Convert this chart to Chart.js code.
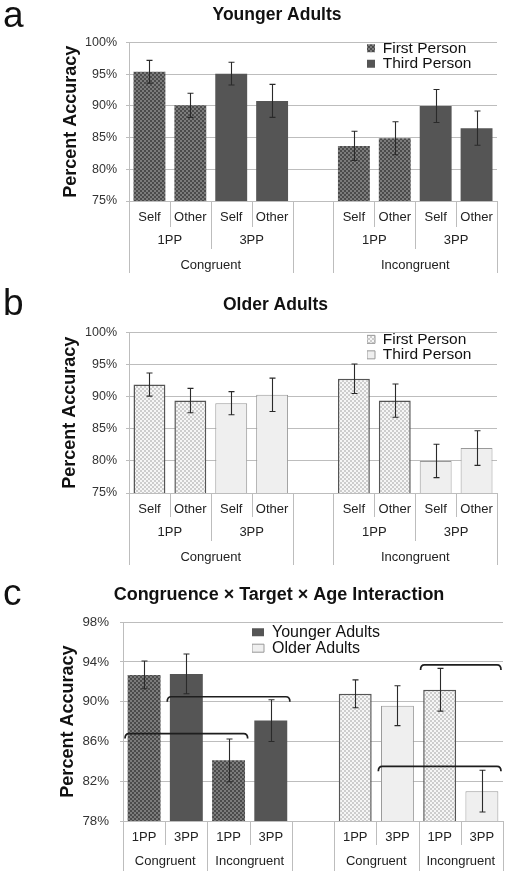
<!DOCTYPE html>
<html><head><meta charset="utf-8">
<script src="https://cdn.jsdelivr.net/npm/chart.js@4.4.0/dist/chart.umd.min.js"></script>
<style>
html,body{margin:0;padding:0;background:#fff;}
#wrap{position:relative;width:505px;height:871px;overflow:hidden;background:#fff;}
canvas{position:absolute;left:0;}
.letter{position:absolute;font-family:'Liberation Sans',Arial,sans-serif;font-size:37px;line-height:37px;color:#111;}
</style></head><body>
<div id="wrap">
  <canvas id="ca" width="505" height="290" style="top:0"></canvas>
  <canvas id="cb" width="505" height="280" style="top:290px"></canvas>
  <canvas id="cc" width="505" height="301" style="top:570px"></canvas>
  <div class="letter" style="left:3px;top:-4px">a</div>
  <div class="letter" style="left:3px;top:284px">b</div>
  <div class="letter" style="left:3px;top:574px">c</div>
</div>
<script>
// ---------- data ----------
const targetLabels = ['Self','Other','Self','Other','','Self','Other','Self','Other'];
const perspLabels = ['1PP','3PP','1PP','3PP'];
const perspSpans = [[0,1],[2,3],[5,6],[7,8]];
const congLabels = ['Congruent','Incongruent'];
const congSpans = [[0,3],[5,8]];
const firstPersonSlots = [0,1,5,6];
const thirdPersonSlots = [2,3,7,8];
const yTicksAB = [75,80,85,90,95,100];

const youngerFirstPerson = [95.4, 90.1, 83.7, 84.9];
const youngerFirstErr    = [1.8, 1.9, 2.3, 2.6];
const youngerThirdPerson = [95.1, 90.8, 90.0, 86.5];
const youngerThirdErr    = [1.8, 2.6, 2.6, 2.7];

const olderFirstPerson = [91.9, 89.4, 92.8, 89.4];
const olderFirstErr    = [1.8, 1.9, 2.3, 2.6];
const olderThirdPerson = [89.0, 90.3, 80.0, 82.0];
const olderThirdErr    = [1.8, 2.6, 2.6, 2.7];

const interactionLabels = ['1PP','3PP','1PP','3PP','','1PP','3PP','1PP','3PP'];
const interactionCongLabels = ['Congruent','Incongruent','Congruent','Incongruent'];
const interactionCongSpans = [[0,1],[2,3],[5,6],[7,8]];
const youngerSlots = [0,1,2,3];
const olderSlots = [5,6,7,8];
const youngerInteraction    = [92.7, 92.8, 84.1, 88.1];
const youngerInteractionErr = [1.4, 2.0, 2.15, 2.1];
const olderInteraction      = [90.8, 89.6, 91.2, 81.0];
const olderInteractionErr   = [1.4, 2.0, 2.15, 2.1];
const yTicksC = [78,82,86,90,94,98];
const bracketFrom  = [0, 1, 7, 6];
const bracketTo    = [2, 3, 8, 8];
const bracketLevel = [86.8, 90.5, 93.7, 83.5];

// ---------- styles ----------
Chart.defaults.font.family = "'Liberation Sans', Arial, sans-serif";
Chart.defaults.color = '#222';
const DARK = '#555555', LIGHT = '#efefef', GRID = '#bdbdbd';
function makePattern(base, dot) {
  const c = document.createElement('canvas'); c.width = 4; c.height = 4;
  const g = c.getContext('2d');
  g.fillStyle = base; g.fillRect(0,0,4,4);
  g.fillStyle = dot; g.fillRect(0,0,2,2); g.fillRect(2,2,2,2);
  return g.createPattern(c, 'repeat');
}
const darkPat = makePattern('#4b4b4b', '#7c7c7c');
const lightPat = makePattern('#f6f6f6', '#cdcdcd');

function place(vals, slots, n) { const a = new Array(n).fill(null); slots.forEach((s,i) => a[s] = vals[i]); return a; }

function decorPlugin(o) {
  return {
    id: 'decor',
    afterLayout(chart) {
      const lg = chart.legend, ca = chart.chartArea;
      if (lg) { lg.left = ca.right - o.legendFromRight; lg.top = ca.top + o.legendFromTop; }
    },
    afterDatasetsDraw(chart) {
      const ctx = chart.ctx, ys = chart.scales.y, xs = chart.scales.x;
      ctx.save();
      ctx.strokeStyle = '#2a2a2a'; ctx.lineWidth = 1.1;
      chart.data.datasets.forEach((ds, di) => {
        const meta = chart.getDatasetMeta(di);
        ds.data.forEach((v, i) => {
          if (v == null || ds.errors[i] == null) return;
          const bx = Math.round(meta.data[i].x) + 0.5;
          const yt = ys.getPixelForValue(v + ds.errors[i]), yb = ys.getPixelForValue(v - ds.errors[i]);
          ctx.beginPath();
          ctx.moveTo(bx, yt); ctx.lineTo(bx, yb);
          ctx.moveTo(bx-3, yt); ctx.lineTo(bx+3, yt);
          ctx.moveTo(bx-3, yb); ctx.lineTo(bx+3, yb);
          ctx.stroke();
        });
      });
      if (o.brackets) {
        const cw = xs.getPixelForValue(1) - xs.getPixelForValue(0);
        ctx.strokeStyle = '#1e1e1e'; ctx.lineWidth = 1.7;
        o.brackets.from.forEach((f, k) => {
          const x1 = xs.getPixelForValue(f) - cw/2 + 2;
          const x2 = xs.getPixelForValue(o.brackets.to[k]) + cw/2 - 2;
          const y = ys.getPixelForValue(o.brackets.level[k]);
          ctx.beginPath();
          ctx.moveTo(x1, y + 5); ctx.quadraticCurveTo(x1, y, x1 + 4, y);
          ctx.lineTo(x2 - 4, y); ctx.quadraticCurveTo(x2, y, x2, y + 5);
          ctx.stroke();
        });
      }
      ctx.restore();
    },
    afterDraw(chart) {
      const ctx = chart.ctx, xs = chart.scales.x, ca = chart.chartArea;
      const n = chart.data.labels.length;
      const cw = xs.getPixelForValue(1) - xs.getPixelForValue(0);
      const depth = new Array(n + 1).fill(0);
      chart.data.labels.forEach((l, i) => { if (l) { depth[i] = Math.max(depth[i], 1); depth[i+1] = Math.max(depth[i+1], 1); } });
      o.rows.forEach((r, ri) => r.spans.forEach(s => {
        depth[s[0]] = Math.max(depth[s[0]], ri + 2); depth[s[1]+1] = Math.max(depth[s[1]+1], ri + 2);
      }));
      ctx.save();
      ctx.strokeStyle = GRID; ctx.lineWidth = 1;
      depth.forEach((d, b) => {
        if (!d) return;
        const x = Math.round(xs.getPixelForValue(0) - cw/2 + b * cw) + 0.5;
        ctx.beginPath(); ctx.moveTo(x, ca.bottom); ctx.lineTo(x, ca.bottom + o.divLen[d-1]); ctx.stroke();
      });
      ctx.fillStyle = '#222'; ctx.font = "13px 'Liberation Sans', Arial, sans-serif";
      ctx.textAlign = 'center'; ctx.textBaseline = 'middle';
      o.rows.forEach(r => r.spans.forEach((s, k) => {
        const cx = (xs.getPixelForValue(s[0]) + xs.getPixelForValue(s[1])) / 2;
        ctx.fillText(r.labels[k], cx, ca.bottom + r.offset);
      }));
      ctx.restore();
    }
  };
}

function makeChart(id, o) {
  return new Chart(document.getElementById(id), {
    type: 'bar',
    data: { labels: o.labels, datasets: o.datasets },
    options: {
      responsive: false, animation: false, devicePixelRatio: 1,
      layout: { padding: o.pad },
      datasets: { bar: { categoryPercentage: 1, barPercentage: 0.78, grouped: false, skipNull: true } },
      scales: {
        x: {
          grid: { display: false, drawTicks: false }, border: { display: false },
          ticks: { autoSkip: false, maxRotation: 0, padding: o.xTickPad, font: { size: 13 }, color: '#222' },
          afterFit: s => { s.height = o.xHeight; }
        },
        y: {
          min: o.yTicks[0], max: o.yTicks[o.yTicks.length - 1],
          ticks: { stepSize: o.yTicks[1] - o.yTicks[0], callback: v => v + '%', padding: o.yTickPad, font: { size: o.yTickSize }, color: '#333' },
          grid: { color: GRID, tickLength: 3, drawTicks: true },
          border: { display: true, color: GRID },
          title: { display: true, text: 'Percent Accuracy', font: { size: 18, weight: 'bold' }, color: '#111', padding: { top: o.yTitlePad, bottom: 0 } },
          afterFit: s => { s.width = o.yWidth; }
        }
      },
      plugins: {
        title: { display: true, text: o.title, font: { size: o.titleSize, weight: 'bold' }, color: '#111', padding: { top: 0, bottom: o.titleGap } },
        legend: {
          display: true, position: 'chartArea', align: 'start',
          labels: {
            boxWidth: o.box[0], boxHeight: o.box[1], padding: 0,
            font: { size: o.legendSize, lineHeight: o.legendLH }, color: '#111',
            generateLabels: chart => chart.data.datasets.map((d, i) => ({
              text: d.label, fillStyle: d.legendFill, strokeStyle: d.legendStroke || 'rgba(0,0,0,0)',
              lineWidth: d.legendStroke ? 1 : 0, hidden: false, datasetIndex: i, fontColor: '#111'
            }))
          }
        },
        tooltip: { enabled: false }
      }
    },
    plugins: [decorPlugin(o)]
  });
}

const N = targetLabels.length;
const abRows = [ { labels: perspLabels, spans: perspSpans, offset: 39.5 }, { labels: congLabels, spans: congSpans, offset: 64 } ];

makeChart('ca', {
  labels: targetLabels, title: 'Younger Adults', titleSize: 17.5, titleGap: 16.6,
  pad: { top: 5, left: 57, right: 8, bottom: 0 }, yWidth: 72, yTitlePad: 3, yTickPad: 9, yTickSize: 12.5,
  xHeight: 89, xTickPad: 9, yTicks: yTicksAB, rows: abRows, divLen: [26, 48, 72],
  box: [8, 8], legendSize: 15.5, legendLH: 1.2, legendFromRight: 130, legendFromTop: -2,
  datasets: [
    { label: 'First Person', data: place(youngerFirstPerson, firstPersonSlots, N), errors: place(youngerFirstErr, firstPersonSlots, N),
      backgroundColor: darkPat, borderWidth: 0, legendFill: darkPat },
    { label: 'Third Person', data: place(youngerThirdPerson, thirdPersonSlots, N), errors: place(youngerThirdErr, thirdPersonSlots, N),
      backgroundColor: DARK, borderWidth: 0, legendFill: DARK }
  ]
});

makeChart('cb', {
  labels: targetLabels, title: 'Older Adults', titleSize: 17.5, titleGap: 16.6,
  pad: { top: 5, left: 54, right: 8, bottom: 0 }, yWidth: 75, yTitlePad: 5, yTickPad: 9, yTickSize: 12.5,
  xHeight: 77, xTickPad: 9, yTicks: yTicksAB, rows: abRows, divLen: [24, 48, 72],
  box: [8, 8], legendSize: 15.5, legendLH: 1.2, legendFromRight: 130, legendFromTop: -1,
  datasets: [
    { label: 'First Person', data: place(olderFirstPerson, firstPersonSlots, N), errors: place(olderFirstErr, firstPersonSlots, N),
      backgroundColor: lightPat, borderColor: '#555', borderWidth: 1.5, legendFill: lightPat, legendStroke: '#999' },
    { label: 'Third Person', data: place(olderThirdPerson, thirdPersonSlots, N), errors: place(olderThirdErr, thirdPersonSlots, N),
      backgroundColor: LIGHT, borderColor: '#999', borderWidth: 1, legendFill: LIGHT, legendStroke: '#999' }
  ]
});

const NC = interactionLabels.length;
const fillFor = (dark) => interactionLabels.map(l => l === '1PP' ? (dark ? darkPat : lightPat) : (dark ? DARK : LIGHT));
makeChart('cc', {
  labels: interactionLabels, title: 'Congruence \u00d7 Target \u00d7 Age Interaction', titleSize: 18, titleGap: 16.8,
  pad: { top: 13.8, left: 55, right: 2, bottom: 0 }, yWidth: 68, yTitlePad: 2.5, yTickPad: 11, yTickSize: 13.3,
  xHeight: 50, xTickPad: 9, yTicks: yTicksC,
  rows: [ { labels: interactionCongLabels, spans: interactionCongSpans, offset: 40 } ], divLen: [24, 50],
  brackets: { from: bracketFrom, to: bracketTo, level: bracketLevel },
  box: [12, 8], legendSize: 16, legendLH: 1.15, legendFromRight: 251, legendFromTop: 2,
  datasets: [
    { label: 'Younger Adults', data: place(youngerInteraction, youngerSlots, NC), errors: place(youngerInteractionErr, youngerSlots, NC),
      backgroundColor: fillFor(true), borderWidth: 0, legendFill: DARK },
    { label: 'Older Adults', data: place(olderInteraction, olderSlots, NC), errors: place(olderInteractionErr, olderSlots, NC),
      backgroundColor: fillFor(false), borderColor: interactionLabels.map(l => l === '1PP' ? '#555' : '#999'),
      borderWidth: interactionLabels.map(l => l === '1PP' ? 1.5 : 1), legendFill: LIGHT, legendStroke: '#999' }
  ]
});
</script>
</body></html>
